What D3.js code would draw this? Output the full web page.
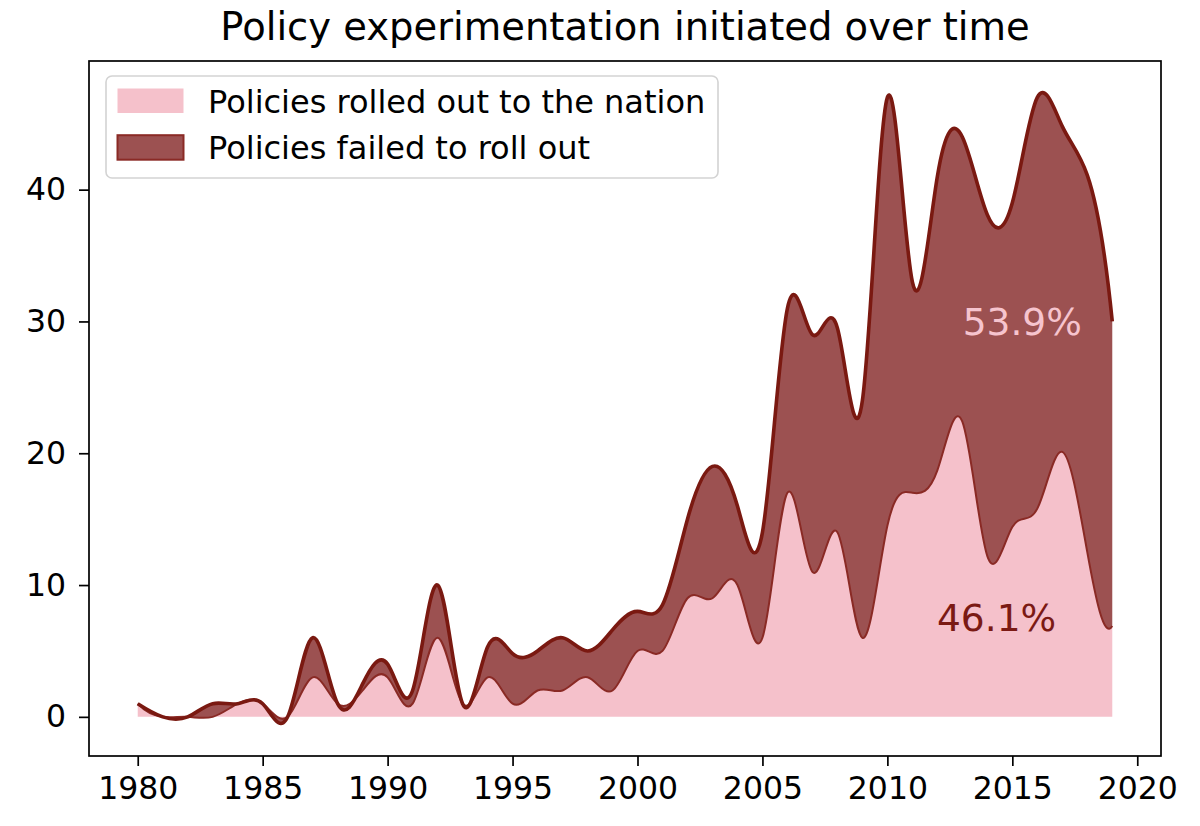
<!DOCTYPE html>
<html>
<head>
<meta charset="utf-8">
<script src="https://cdn.jsdelivr.net/npm/d3@7"></script>
<style>
  html, body { margin: 0; padding: 0; background: #ffffff; }
  svg { display: block; font-family: "DejaVu Sans", sans-serif; }
</style>
</head>
<body>
<svg id="chart" width="1200" height="826"></svg>
<script>
// ---------------- data ----------------
const years = d3.range(1980, 2020);
const rolledOut = [
  1, 0, 0, 0, 1, 1, 0, 3, 1, 2,
  3, 1, 6, 1, 3, 1, 2, 2, 3, 2,
  5, 5, 9, 9, 10, 6, 17, 11, 14, 6,
  14.5, 17, 18.7, 22.4, 12.2, 14.4, 15.8, 20.1, 12.5, 6.9
];
const failedToRollOut = [
  0, 0, 0, 1, 0, 0, 0, 3, 0, 0.5,
  1, 1, 4, 0, 2.3, 3.8, 3, 4, 2, 4.6,
  3, 3.5, 6, 10, 6, 8, 14, 18, 15.5, 18,
  32.5, 16, 22.3, 21.6, 25.9, 24.6, 31.2, 24.7, 28.6, 23.1
];
const seriesNames = ["Policies rolled out to the nation", "Policies failed to roll out"];
const xTicks = [1980, 1985, 1990, 1995, 2000, 2005, 2010, 2015, 2020];
const yTicks = [0, 10, 20, 30, 40];
const shareLabels = [
  { text: "53.9%", year: 2015.4, value: 28.95, color: "#f6c4ce" },
  { text: "46.1%", year: 2014.37, value: 6.5, color: "#7b1a14" }
];
const titleText = "Policy experimentation initiated over time";

// ---------------- not-a-knot cubic spline curve ----------------
function splineM(x, y) {
  const n = x.length;
  const A = [], b = [];
  for (let i = 0; i < n; i++) { A.push(new Array(n).fill(0)); b.push(0); }
  const h = [];
  for (let i = 0; i < n - 1; i++) h.push(x[i + 1] - x[i]);
  A[0][0] = -h[1]; A[0][1] = h[0] + h[1]; A[0][2] = -h[0];
  for (let i = 1; i < n - 1; i++) {
    A[i][i - 1] = h[i - 1];
    A[i][i] = 2 * (h[i - 1] + h[i]);
    A[i][i + 1] = h[i];
    b[i] = 6 * ((y[i + 1] - y[i]) / h[i] - (y[i] - y[i - 1]) / h[i - 1]);
  }
  A[n - 1][n - 3] = -h[n - 2];
  A[n - 1][n - 2] = h[n - 3] + h[n - 2];
  A[n - 1][n - 1] = -h[n - 3];
  for (let c = 0; c < n; c++) {
    let p = c;
    for (let r = c + 1; r < n; r++) if (Math.abs(A[r][c]) > Math.abs(A[p][c])) p = r;
    [A[c], A[p]] = [A[p], A[c]]; [b[c], b[p]] = [b[p], b[c]];
    for (let r = c + 1; r < n; r++) {
      const f = A[r][c] / A[c][c];
      if (f === 0) continue;
      for (let k = c; k < n; k++) A[r][k] -= f * A[c][k];
      b[r] -= f * b[c];
    }
  }
  const M = new Array(n).fill(0);
  for (let r = n - 1; r >= 0; r--) {
    let s = b[r];
    for (let k = r + 1; k < n; k++) s -= A[r][k] * M[k];
    M[r] = s / A[r][r];
  }
  return M;
}
function NotAKnot(context) { this._context = context; }
NotAKnot.prototype = {
  areaStart() { this._line = 0; },
  areaEnd() { this._line = NaN; },
  lineStart() { this._x = []; this._y = []; },
  point(px, py) { this._x.push(+px); this._y.push(+py); },
  lineEnd() {
    const xs = this._x, ys = this._y, n = xs.length, ctx = this._context;
    if (n) {
      this._line ? ctx.lineTo(xs[0], ys[0]) : ctx.moveTo(xs[0], ys[0]);
      if (n < 4) {
        for (let i = 1; i < n; i++) ctx.lineTo(xs[i], ys[i]);
      } else {
        const M = splineM(xs, ys);
        for (let i = 0; i < n - 1; i++) {
          const h = xs[i + 1] - xs[i];
          const s = (ys[i + 1] - ys[i]) / h;
          const d0 = s - h * (2 * M[i] + M[i + 1]) / 6;
          const d1 = s + h * (M[i] + 2 * M[i + 1]) / 6;
          ctx.bezierCurveTo(xs[i] + h / 3, ys[i] + h / 3 * d0,
                            xs[i + 1] - h / 3, ys[i + 1] - h / 3 * d1,
                            xs[i + 1], ys[i + 1]);
        }
      }
    }
    if (this._line || (this._line !== 0 && n === 1)) ctx.closePath();
    this._line = 1 - this._line;
    this._x = this._y = null;
  }
};
const curveNotAKnot = ctx => new NotAKnot(ctx);

// ---------------- layout ----------------
const svg = d3.select("#chart");
const pLeft = 89, pRight = 1161, pTop = 61, pBottom = 756;

const x = d3.scaleLinear().domain([1978.05, 2020.95]).range([pLeft, pRight]);
const y = d3.scaleLinear().domain([-2.97, 49.76]).range([pBottom, pTop]);

const rows = years.map((yr, i) => ({ year: yr, rolled: rolledOut[i], failed: failedToRollOut[i] }));
const layers = d3.stack().keys(["rolled", "failed"])(rows);

const fills = ["#f5c1cb", "#9c5151"];

svg.append("clipPath").attr("id", "plotclip")
  .append("rect").attr("x", pLeft).attr("y", pTop).attr("width", pRight - pLeft).attr("height", pBottom - pTop);

const plot = svg.append("g").attr("clip-path", "url(#plotclip)");

const area = d3.area()
  .x(d => x(d.data.year))
  .y0(d => y(d[0]))
  .y1(d => y(d[1]))
  .curve(curveNotAKnot);

plot.selectAll("path.layer")
  .data(layers)
  .join("path")
  .attr("class", "layer")
  .attr("d", area)
  .attr("fill", (d, i) => fills[i])
  .attr("stroke", "none");

const line = d3.line()
  .x(d => x(d.data.year))
  .y(d => y(d[1]))
  .curve(curveNotAKnot);

plot.append("path")
  .datum(layers[0])
  .attr("d", line)
  .attr("fill", "none")
  .attr("stroke", "#8a2a25")
  .attr("stroke-width", 2);

plot.append("path")
  .datum(layers[1])
  .attr("d", line)
  .attr("fill", "none")
  .attr("stroke", "#7a1911")
  .attr("stroke-width", 3.6)
  .attr("stroke-linejoin", "round");

svg.selectAll("text.share")
  .data(shareLabels)
  .join("text")
  .attr("class", "share")
  .attr("x", d => x(d.year))
  .attr("y", d => y(d.value))
  .attr("text-anchor", "middle")
  .attr("font-size", "37.5px")
  .attr("fill", d => d.color)
  .text(d => d.text);

const xAxis = d3.axisBottom(x).tickValues(xTicks).tickFormat(d3.format("d")).tickSize(10).tickPadding(11);
const yAxis = d3.axisLeft(y).tickValues(yTicks).tickFormat(d3.format("d")).tickSize(10).tickPadding(13);

const gx = svg.append("g").attr("transform", `translate(0,${pBottom})`).call(xAxis);
const gy = svg.append("g").attr("transform", `translate(${pLeft},0)`).call(yAxis);
[gx, gy].forEach(g => {
  g.select(".domain").remove();
  g.selectAll(".tick line").attr("stroke", "#000").attr("stroke-width", 1.7);
  g.selectAll(".tick text").attr("fill", "#000").attr("font-size", "31.5px")
    .attr("font-family", "'DejaVu Sans', sans-serif");
});

svg.append("rect")
  .attr("x", pLeft).attr("y", pTop)
  .attr("width", pRight - pLeft).attr("height", pBottom - pTop)
  .attr("fill", "none").attr("stroke", "#000").attr("stroke-width", 1.7);

svg.append("text")
  .attr("x", (pLeft + pRight) / 2)
  .attr("y", 40)
  .attr("text-anchor", "middle")
  .attr("font-size", "38.5px")
  .attr("fill", "#000")
  .text(titleText);

const lg = svg.append("g");
lg.append("rect")
  .attr("x", 106).attr("y", 76).attr("width", 612).attr("height", 102)
  .attr("rx", 6).attr("ry", 6)
  .attr("fill", "#ffffff").attr("fill-opacity", 0.85)
  .attr("stroke", "#d3d3d3").attr("stroke-width", 1.6);
const legendItems = seriesNames.map((name, i) => ({ name, i }));
const li = lg.selectAll("g.item").data(legendItems).join("g").attr("class", "item")
  .attr("transform", d => `translate(0,${d.i * 46.7})`);
li.append("rect")
  .attr("x", 117.5).attr("y", 88.5).attr("width", 66).attr("height", 24.5)
  .attr("fill", d => fills[d.i])
  .attr("stroke", d => d.i === 1 ? "#8a2a25" : "none")
  .attr("stroke-width", 2);
li.append("text")
  .attr("x", 208).attr("y", 112.5)
  .attr("font-size", "32px")
  .attr("fill", "#000")
  .text(d => d.name);
</script>
</body>
</html>
